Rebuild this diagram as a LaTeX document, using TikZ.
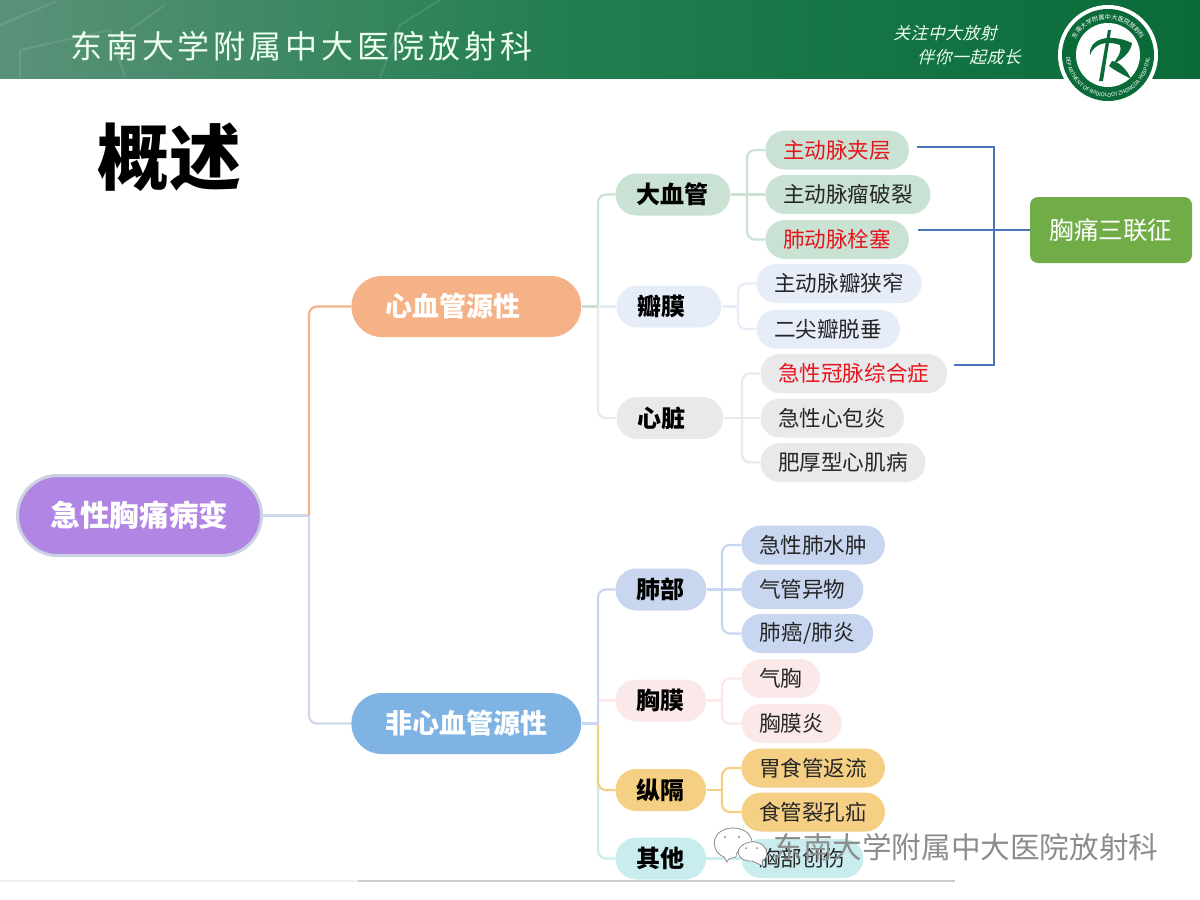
\documentclass[tikz,border=0pt]{standalone}
\usepackage{fontspec}
\usetikzlibrary{shapes.misc,decorations.text}
\setmainfont{Noto Sans CJK SC}
\newfontfamily\slantfont[FakeSlant=0.25,LetterSpace=3]{Noto Sans CJK SC}
\newfontfamily\spacedfont[LetterSpace=12]{Noto Sans CJK SC}

\definecolor{rootfill}{HTML}{B085E3}
\definecolor{rootedge}{HTML}{C9D1E2}
\definecolor{cardfill}{HTML}{F5B287}
\definecolor{noncardfill}{HTML}{7FB3E3}
\definecolor{vesselfill}{HTML}{C9E2D4}
\definecolor{valvefill}{HTML}{E6EDF8}
\definecolor{heartfill}{HTML}{E9E9EC}
\definecolor{lungfill}{HTML}{C9D6EF}
\definecolor{pleurafill}{HTML}{FBE9E9}
\definecolor{mediafill}{HTML}{F5CF83}
\definecolor{otherfill}{HTML}{C9EDEE}
\definecolor{trunkline}{HTML}{D0D8EE}
\definecolor{triadline}{HTML}{4A73B8}
\definecolor{triadfill}{HTML}{70AD47}
\definecolor{hdrdark}{HTML}{0A6A38}
\definecolor{hdrlight}{HTML}{5A9279}
\definecolor{hdrmid}{HTML}{1F7D4E}
\definecolor{alert}{HTML}{E8141C}

\tikzset{
  rootbox/.style={rounded rectangle, draw=rootedge, line width=1.5pt, fill=rootfill,
    text=white, font=\fontsize{14.8}{15}\selectfont\bfseries,
    minimum width=122pt, minimum height=40pt, inner xsep=0pt},
  sidebox/.style={rounded rectangle, fill=#1, text=white, anchor=west, align=left,
    font=\fontsize{13.5}{14}\selectfont\bfseries,
    text width=81pt, inner xsep=15.5pt, minimum height=30.5pt},
  midbox/.style={rounded rectangle, fill=#1, text=black, anchor=west, align=left,
    font=\fontsize{12}{13}\selectfont\bfseries,
    inner xsep=9pt, minimum height=21pt},
  leafbox/.style={rounded rectangle, fill=#1, text=black!85, anchor=west,
    font=\fontsize{10.8}{12}\selectfont,
    inner xsep=7.5pt, minimum height=19.5pt},
  link/.style={line width=1.1pt, rounded corners=4pt, draw=#1},
  triad/.style={line width=0.7pt, draw=triadline},
}

\begin{document}
\begin{tikzpicture}[x=0.5pt, y=-0.5pt]
\useasboundingbox (0,0) rectangle (1200,900);

% Header band
\shade[left color=hdrlight, right color=hdrmid] (0,0) rectangle (600,78);
\shade[left color=hdrmid, right color=hdrdark] (600,0) rectangle (1200,78);
\draw[white, opacity=0.1, line width=1pt] (0,25) -- (55,2) (20,78) -- (20,50) -- (110,30) -- (125,78)
  (130,30) -- (165,5) (380,78) -- (400,25) -- (440,0);
\node[text=white!93!green, font=\fontsize{16}{17}\selectfont\spacedfont, anchor=west, inner sep=0pt] (hdrtitle) at (70,46) {东南大学附属中大医院放射科};
\node[text=white!92!green, font=\fontsize{8.4}{9}\selectfont\slantfont, anchor=west, inner sep=0pt] (motto1) at (893,33) {关注中大放射};
\node[text=white!92!green, font=\fontsize{8.4}{9}\selectfont\slantfont, anchor=west, inner sep=0pt] (motto2) at (917,57) {伴你一起成长};

% Logo
\fill[white] (1108,55) circle (50);
\fill[hdrdark] (1108,55) circle (46);
\fill[white] (1108,55) circle (32);
\path[decorate, decoration={text along path, text align=center,
    text={|\fontsize{3.1}{4}\selectfont\color{white}|东南大学附属中大医院放射科}}]
  (1072,55) arc[start angle=180, end angle=360, radius=36];
\path[decorate, decoration={text along path, text align=center,
    text={|\fontsize{2.7}{3}\selectfont\color{white}|DEPARTMENT OF RADIOLOGY ZHONGDA HOSPITAL}}]
  (1066,55) arc[start angle=180, end angle=0, radius=42];
\fill[hdrdark] (1108,30) -- (1111,30) -- (1103,81) -- (1099,81) -- cycle;
\fill[hdrdark] (1090,55) .. controls (1088,40) and (1108,32) .. (1132,43)
  .. controls (1131,52) and (1122,60) .. (1113,64) .. controls (1119,56) and (1122,50) .. (1120,45)
  .. controls (1106,40) and (1094,44) .. (1090,55) -- cycle;
\fill[hdrdark] (1112,61) .. controls (1120,62) and (1127,70) .. (1131,79)
  .. controls (1122,74) and (1114,70) .. (1109,66) -- cycle;

% Title
\node[text=black, font=\fontsize{36}{37}\selectfont\bfseries, anchor=west, inner sep=0pt] (title) at (97,157) {概述};

% Bottom rule
\coordinate (ruleA) at (358,881);
\coordinate (ruleB) at (955,881);
\coordinate (ruleC) at (0,881);
\draw[black!20, line width=0.6pt] (ruleA) -- (ruleB);
\draw[black!6, line width=0.6pt] (ruleC) -- (ruleA);

% Joints of the branches
\coordinate (rootJ) at (309,515.5);
\coordinate (cardJ) at (598,306.5);
\coordinate (noncardJ) at (598,723.5);
\coordinate (pleuraT) at (598,700.5);
\coordinate (vesselJ) at (747,194.5);
\coordinate (valveJ) at (738,306.5);
\coordinate (heartJ) at (742,418);
\coordinate (lungJ) at (722,589.5);
\coordinate (pleuraJ) at (722,700.5);
\coordinate (mediaJ) at (722,790);

% Nodes
\node[rootbox] (root) at (139.5,515.5) {急性胸痛病变};
\node[sidebox=cardfill] (card) at (351,306.5) {心血管源性};
\node[sidebox=noncardfill] (noncard) at (351,723.5) {非心血管源性};

\node[midbox=vesselfill] (vessel) at (615,194.5) {大血管};
\node[midbox=valvefill, text width=31pt] (valve) at (616,306.5) {瓣膜};
\node[midbox=heartfill, text width=32pt] (heart) at (616,418) {心脏};
\node[midbox=lungfill] (lung) at (615,589.5) {肺部};
\node[midbox=pleurafill] (pleura) at (615,700.5) {胸膜};
\node[midbox=mediafill] (media) at (615,790) {纵隔};
\node[midbox=otherfill] (other) at (615,858.5) {其他};

\node[leafbox=vesselfill, text=alert] (dissect) at (765,150) {主动脉夹层};
\node[leafbox=vesselfill] (rupture) at (765,194.5) {主动脉瘤破裂};
\node[leafbox=vesselfill, text=alert] (embol) at (765,239.5) {肺动脉栓塞};
\node[leafbox=valvefill] (steno) at (756,283.5) {主动脉瓣狭窄};
\node[leafbox=valvefill] (prolapse) at (756,329) {二尖瓣脱垂};
\node[leafbox=heartfill, text=alert] (acs) at (760,373.5) {急性冠脉综合症};
\node[leafbox=heartfill] (pericard) at (760,418) {急性心包炎};
\node[leafbox=heartfill] (hcm) at (760,462.5) {肥厚型心肌病};
\node[leafbox=lungfill] (edema) at (741,545) {急性肺水肿};
\node[leafbox=lungfill] (foreign) at (741,589.5) {气管异物};
\node[leafbox=lungfill] (cancer) at (741,633.5) {肺癌/肺炎};
\node[leafbox=pleurafill] (pneumo) at (741,678.5) {气胸};
\node[leafbox=pleurafill] (pleurit) at (741,723.5) {胸膜炎};
\node[leafbox=mediafill] (reflux) at (741,768) {胃食管返流};
\node[leafbox=mediafill] (hernia) at (741,812) {食管裂孔疝};
\node[leafbox=otherfill] (trauma) at (741,858.5) {胸部创伤};

\node[rounded corners=4pt, fill=triadfill, text=white, minimum width=81pt, minimum height=33pt, inner sep=0pt,
  font=\fontsize{12.3}{13}\selectfont] (triadbox) at (1111,230) {胸痛三联征};

% Branches
\draw[link=trunkline] (root.east) -- (rootJ);
\draw[link=cardfill] (rootJ) |- (card.west);
\draw[link=trunkline] (rootJ) |- (noncard.west);

\draw[link=vesselfill] (card.east) -- (cardJ);
\draw[link=vesselfill] (cardJ) |- (vessel.west);
\draw[link=valvefill] (cardJ) -- (valve.west);
\draw[link=heartfill] (cardJ) |- (heart.west);

\draw[link=otherfill] (noncardJ) |- (other.west);
\draw[link=mediafill] (noncardJ) |- (media.west);
\draw[link=pleurafill] (pleuraT) -- (pleura.west);
\draw[link=lungfill] (noncard.east) -- (noncardJ);
\draw[link=lungfill] (noncardJ) |- (lung.west);

\draw[link=vesselfill] (vessel.east) -- (rupture.west);
\draw[link=vesselfill] (vesselJ) |- (dissect.west);
\draw[link=vesselfill] (vesselJ) |- (embol.west);
\draw[link=valvefill] (valve.east) -- (valveJ);
\draw[link=valvefill] (valveJ) |- (steno.west);
\draw[link=valvefill] (valveJ) |- (prolapse.west);
\draw[link=heartfill] (heart.east) -- (pericard.west);
\draw[link=heartfill] (heartJ) |- (acs.west);
\draw[link=heartfill] (heartJ) |- (hcm.west);
\draw[link=lungfill] (lung.east) -- (foreign.west);
\draw[link=lungfill] (lungJ) |- (edema.west);
\draw[link=lungfill] (lungJ) |- (cancer.west);
\draw[link=pleurafill] (pleura.east) -- (pleuraJ);
\draw[link=pleurafill] (pleuraJ) |- (pneumo.west);
\draw[link=pleurafill] (pleuraJ) |- (pleurit.west);
\draw[link=mediafill] (media.east) -- (mediaJ);
\draw[link=mediafill] (mediaJ) |- (reflux.west);
\draw[link=mediafill] (mediaJ) |- (hernia.west);
\draw[link=otherfill] (other.east) -- (trauma.west);

% Triad bracket
\coordinate (triadT) at (994,147);
\coordinate (triadB) at (994,365);
\coordinate (triadA) at (917,147);
\coordinate (triadC) at (954,365);
\coordinate (triadD) at (918,230);
\draw[triad] (triadA) -- (triadT) -- (triadB) -- (triadC);
\draw[triad] (triadD) -- (triadbox.west);

% Watermark
\draw[black!45, fill=white, line width=0.4pt] (724,857) .. controls (708,850) and (712,828) .. (733,828)
  .. controls (745,828) and (752,835) .. (752,843) .. controls (745,843) and (736,850) .. (736,857)
  .. controls (732,858) and (728,858) .. (727,862) -- cycle;
\draw[black!45, fill=white, line width=0.4pt] (752,861) .. controls (736,862) and (732,846) .. (750,842)
  .. controls (766,840) and (772,856) .. (762,861) -- (763,866) -- cycle;
\fill[black!45] (725,837) circle (1.2) (739,837) circle (1.2) (746,848) circle (1) (757,848) circle (1);
\node[text=black!45, font=\fontsize{14.8}{16}\selectfont, anchor=west, inner sep=0pt] (mark) at (773,847) {东南大学附属中大医院放射科};
\end{tikzpicture}
\end{document}
